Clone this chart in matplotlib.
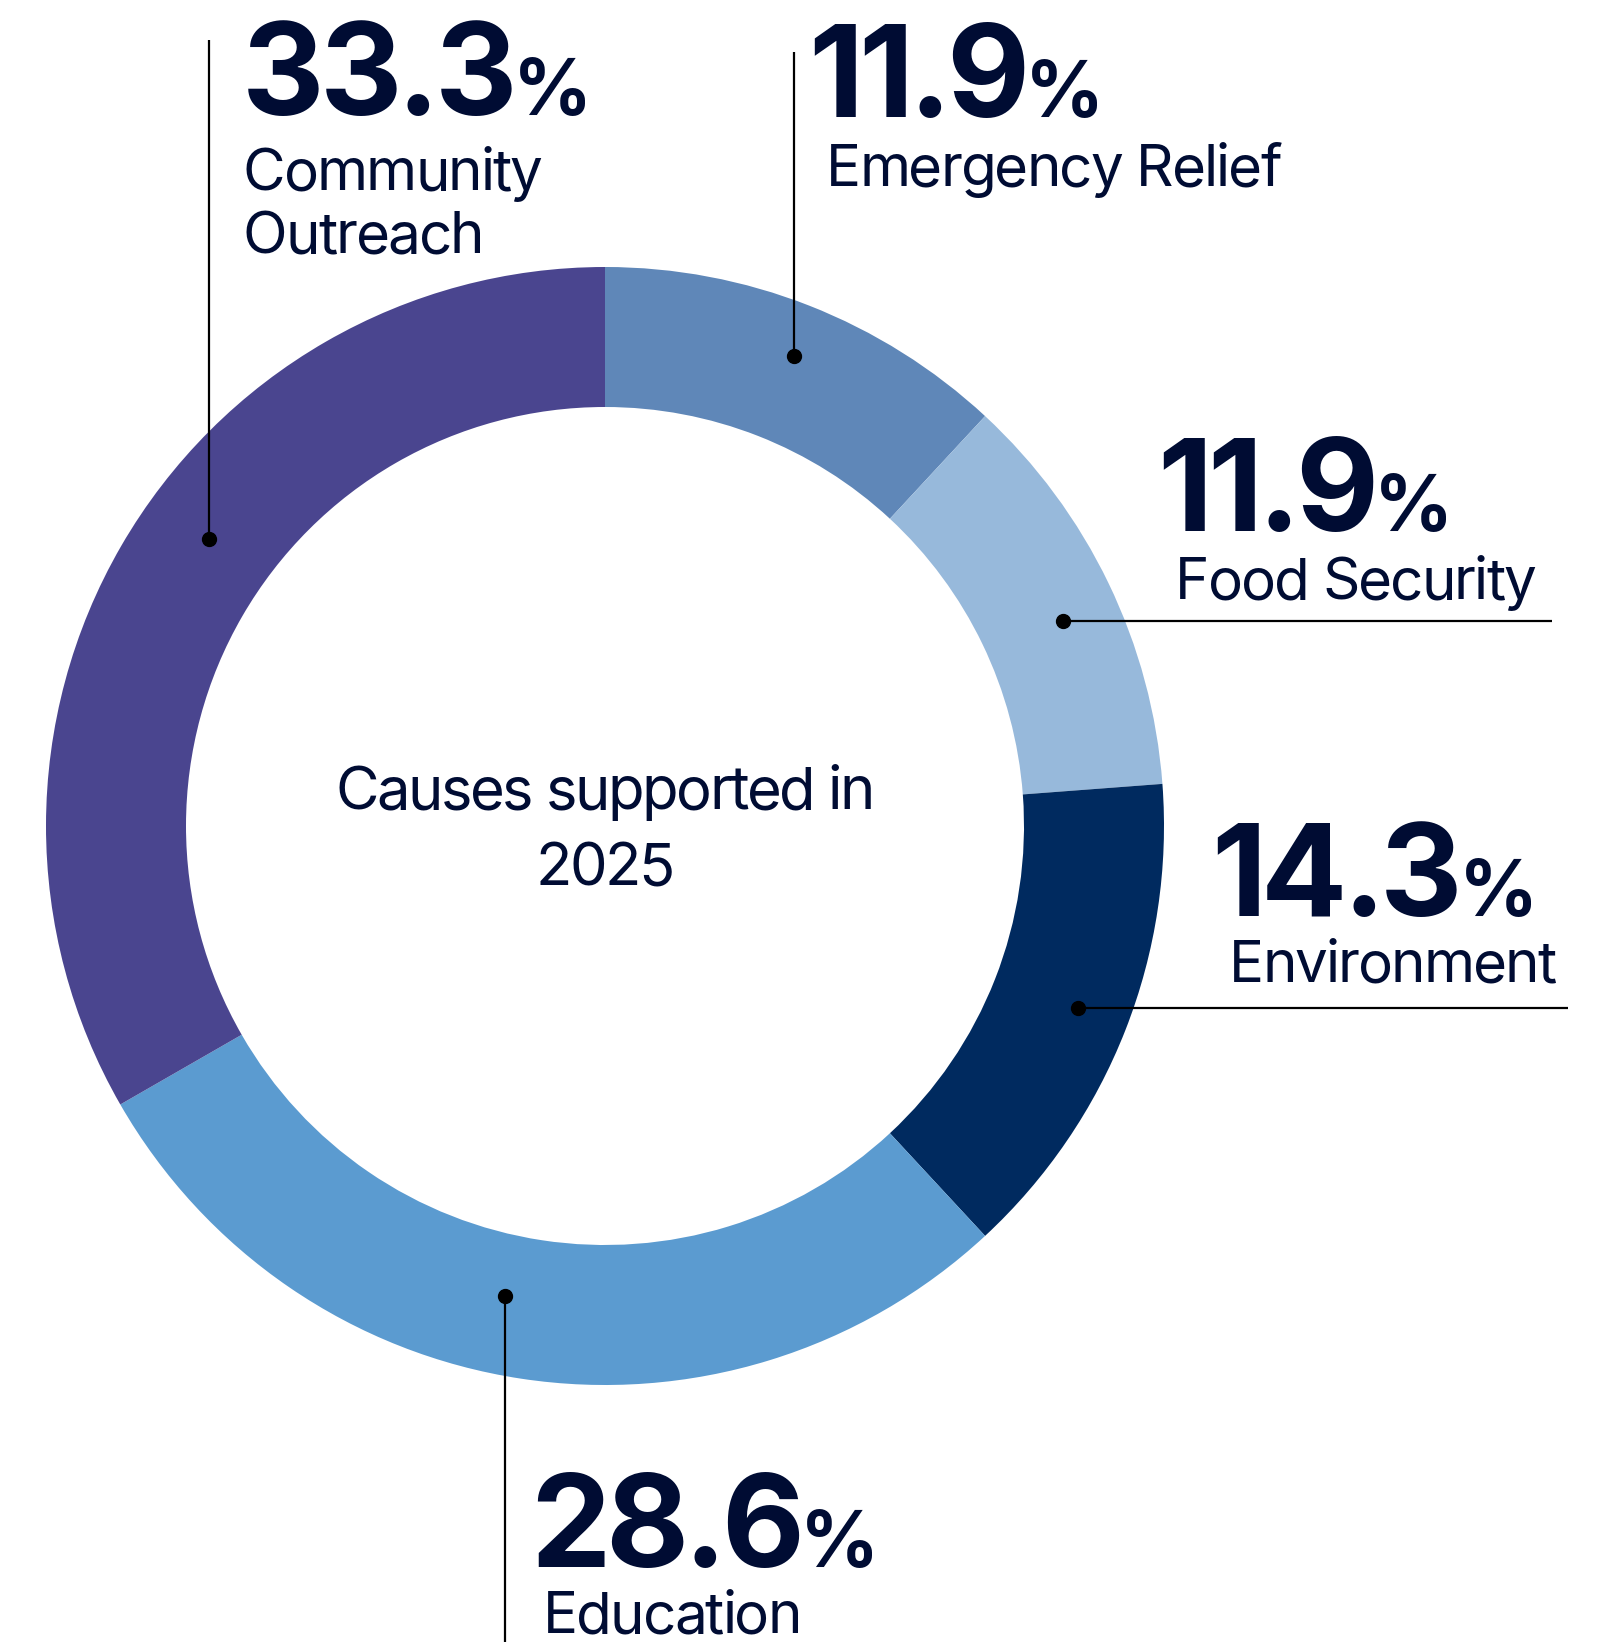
import matplotlib.pyplot as plt
from matplotlib.font_manager import FontProperties, findfont, get_font

W, H = 1615, 1642

# data, clockwise from 12 o'clock
categories = ['Emergency Relief', 'Food Security', 'Environment', 'Education', 'Community\nOutreach']
shares = [11.9, 11.9, 14.3, 28.6, 33.3]
colors = ['#5f87b8', '#97b9db', '#002a5f', '#5b9bd0', '#4a458f']
center_lines = ['Causes supported in', '2025']

# layout in pixels, y measured from top of the picture
cx, cy, r_out, ring = 605, 826, 559, 140
dots = [(794, 356), (1063, 621), (1078, 1008), (505, 1296), (209, 539)]
line_ends = [(794, 52), (1552, 621), (1568, 1008), (505, 1642), (209, 40)]
num_pos = [(808, 117), (1157, 531), (1211, 916), (530, 1567), (242, 115)]
lab_pos = [(826, 186), (1175, 599), (1229, 982), (543, 1633), (243, 190)]

ink = '#000c33'
plt.rcParams['font.family'] = ['Inter', 'DejaVu Sans']


def Y(y):
    return H - y


def advances(s, size, weight):
    font = get_font(findfont(FontProperties(family='Inter', weight=weight)))
    font.set_size(size, 100)
    return [font.load_char(ord(c)).linearHoriAdvance / 65536 for c in s]


def tracked_text(ax, x, y, s, size, weight='normal', track=0.0, ha='left'):
    # matplotlib has no letter-spacing, so set glyphs one by one a bit tighter
    adv = advances(s, size, weight)
    width = sum(adv) + track * (len(s) - 1)
    if ha == 'center':
        x = x - width / 2
    pen = x
    for c, a in zip(s, adv):
        if c != ' ':
            ax.text(pen, y, c, fontsize=size, fontweight=weight, color=ink,
                    ha='left', va='baseline')
        pen += a + track
    return pen - track


def main():
    fig = plt.figure(figsize=(W / 100, H / 100), dpi=100)
    ax = fig.add_axes([0, 0, 1, 1])
    ax.pie(shares, colors=colors, startangle=90, counterclock=False,
           radius=r_out, center=(cx, Y(cy)),
           wedgeprops=dict(width=ring, edgecolor='none'))
    ax.set_xlim(0, W)
    ax.set_ylim(0, H)
    ax.set_aspect('auto')
    ax.axis('off')

    for i, name in enumerate(categories):
        (dx, dy), (ex, ey) = dots[i], line_ends[i]
        ax.plot([dx, ex], [Y(dy), Y(ey)], color='black', lw=1.6, solid_capstyle='butt')
        ax.plot(dx, Y(dy), 'o', color='black', ms=10)

        nx, ny = num_pos[i]
        end = tracked_text(ax, nx, Y(ny), f'{shares[i]:.1f}', 92, 'bold', track=-5)
        tracked_text(ax, end - 4, Y(ny), '%', 56, 'bold')

        lx, ly = lab_pos[i]
        for k, line in enumerate(name.split('\n')):
            tracked_text(ax, lx, Y(ly + k * 63), line, 42, track=-1.9)

    for k, line in enumerate(center_lines):
        tracked_text(ax, cx, Y(809 + k * 76), line, 43, track=-2.4, ha='center')

    plt.savefig('out.png', dpi=100)


if __name__ == '__main__':
    main()
